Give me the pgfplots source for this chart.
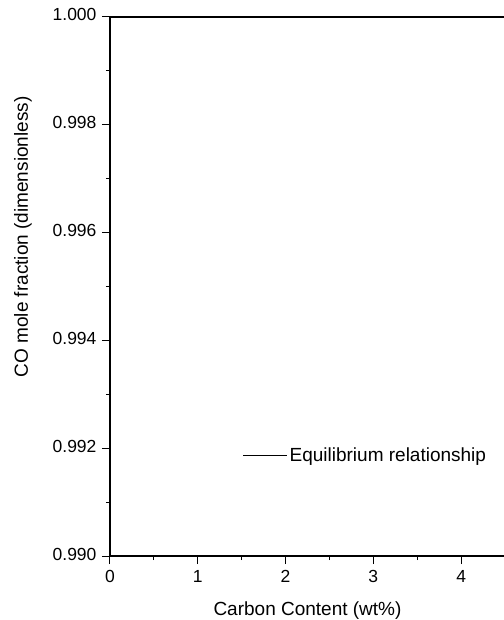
\documentclass[border=0pt]{standalone}
\usepackage{pgfplots}
\pgfplotsset{compat=1.18}
\usepackage{fontspec}
\setmainfont{Liberation Sans}
\begin{document}
\begin{tikzpicture}
\begin{axis}[
  at={(0,0)}, anchor=south west,
  scale only axis, width=395pt, height=539pt,
  xmin=0, xmax=4.5, ymin=0.990, ymax=1.000,
  axis x line*=box, axis y line*=left,
  xtick={0,1,2,3,4}, minor x tick num=1,
  ytick={0.990,0.992,0.994,0.996,0.998,1.000}, minor y tick num=1,
  xtick pos=left, ytick pos=left,
  tick align=outside,
  major tick length=8pt, minor tick length=4pt,
  every tick/.style={black, line width=1pt},
  axis line style={black, line width=1.3pt},
  /pgf/number format/assume math mode=true,
  typeset ticklabels with strut,
  yticklabel style={xshift=-2pt, /pgf/number format/.cd, fixed, fixed zerofill, precision=3},
  xticklabel style={yshift=-1pt, /pgf/number format/.cd, fixed, precision=0},
  tick label style={font=\fontsize{17.5}{20}\selectfont},
  xlabel={Carbon Content (wt\%)},
  ylabel={CO mole fraction (dimensionless)},
  label style={font=\fontsize{19}{22}\selectfont},
  xlabel style={at={(axis description cs:0.5,-0.1095)}, anchor=base},
  ylabel style={at={(axis description cs:-0.2076,0.592)}, anchor=base},
  legend style={draw=none, fill=none, inner sep=0pt, at={(axis cs:1.51,0.99186)}, anchor=west, font=\fontsize{19}{22}\selectfont},
  legend image code/.code={\draw[#1] (0pt,0pt) -- (44pt,0pt);},
]
\addlegendimage{black, line width=0.9pt}
\addlegendentry{Equilibrium relationship}
\end{axis}
\pgfresetboundingbox
\path[use as bounding box] (-110pt,-64pt) rectangle (393pt,556pt);
\end{tikzpicture}
\end{document}
